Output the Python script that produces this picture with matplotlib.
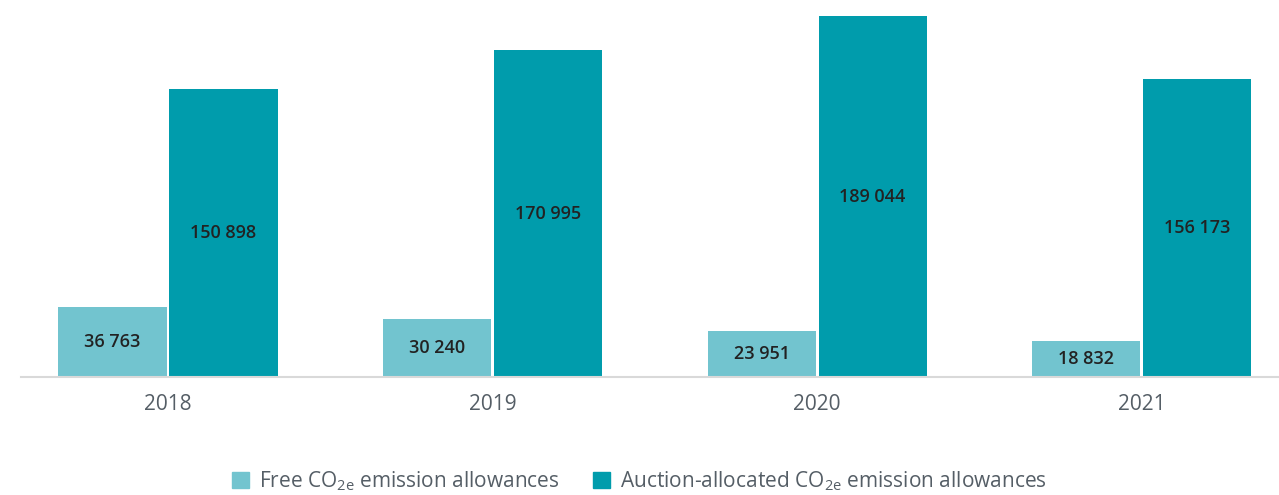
import numpy as np
import matplotlib
matplotlib.use("Agg")
import matplotlib.pyplot as plt
from matplotlib.patches import Patch

plt.rcParams['font.family'] = ['Open Sans', 'DejaVu Sans']
plt.rcParams['mathtext.default'] = 'regular'

years = ["2018", "2019", "2020", "2021"]
free = [36763, 30240, 23951, 18832]
auction = [150898, 170995, 189044, 156173]

c_free = "#72c4cf"
c_auction = "#009cac"

fig = plt.figure(figsize=(12.79, 4.95), dpi=100)
ax = fig.add_axes([21 / 1279, 118 / 495, 1257 / 1279, 361 / 495])

x = np.arange(len(years))
w = 0.333
off = 0.171
b1 = ax.bar(x - off, free, w, color=c_free)
b2 = ax.bar(x + off, auction, w, color=c_auction)


def fmt(v):
    return f"{v:,}".replace(",", " ")


for bars, vals in [(b1, free), (b2, auction)]:
    for b, v in zip(bars, vals):
        ax.text(b.get_x() + b.get_width() / 2, v / 2, fmt(v),
                ha='center', va='center', fontsize=13, color='#222222',
                fontweight='semibold')

ax.set_xlim(-0.453, 3.42)
ax.set_ylim(0, 189044)
ax.set_xticks(x)
ax.set_xticklabels(years, fontsize=15, color='#555e66')
ax.tick_params(axis='x', length=0, pad=12)
ax.set_yticks([])
for s in ['top', 'right', 'left']:
    ax.spines[s].set_visible(False)
ax.spines['bottom'].set_color('#d9d9d9')
ax.spines['bottom'].set_linewidth(1.5)

handles = [Patch(color=c_free, label="Free CO$_{2e}$ emission allowances"),
           Patch(color=c_auction, label="Auction-allocated CO$_{2e}$ emission allowances")]
leg = fig.legend(handles=handles, loc='center', bbox_to_anchor=(0.5, 14 / 495),
                 ncol=2, frameon=False, fontsize=15, handlelength=0.8,
                 handleheight=0.8, handletextpad=0.5, columnspacing=1.6)
for t in leg.get_texts():
    t.set_color('#555e66')

fig.savefig("out.png", dpi=100)
